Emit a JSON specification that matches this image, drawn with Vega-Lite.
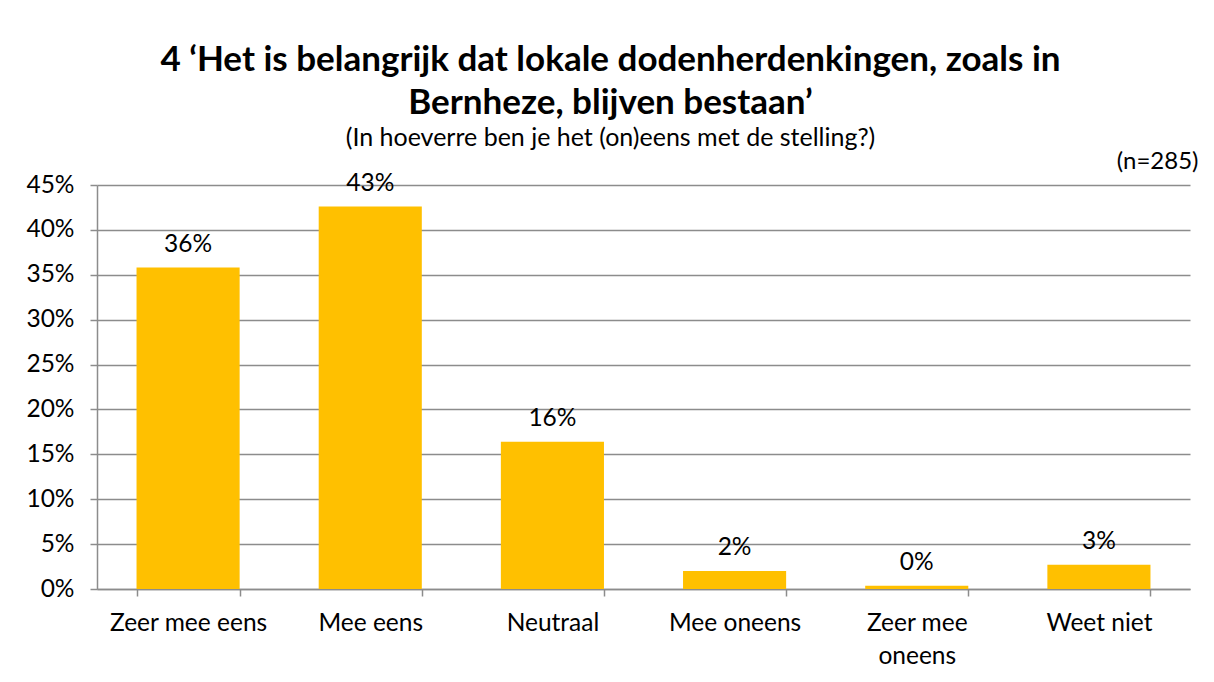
{
  "$schema": "https://vega.github.io/schema/vega-lite/v6.json",
  "width": 1093,
  "height": 404,
  "autosize": {"type": "none"},
  "padding": {"left": 97, "top": 185, "right": 24, "bottom": 93},
  "background": "white",
  "config": {"font": "Lato", "view": {"stroke": null}},
  "title": {
    "text": ["4 ‘Het is belangrijk dat lokale dodenherdenkingen, zoals in", "Bernheze, blijven bestaan’"],
    "subtitle": "(In hoeverre ben je het (on)eens met de stelling?)",
    "anchor": "middle",
    "frame": "group",
    "dx": -33,
    "fontSize": 35,
    "fontWeight": "bold",
    "lineHeight": 43,
    "color": "#000000",
    "subtitleFontSize": 25,
    "subtitleColor": "#000000",
    "subtitlePadding": 5,
    "offset": -2
  },
  "data": {
    "values": [
      {"categorie": "Zeer mee eens", "pct": 0.358},
      {"categorie": "Mee eens", "pct": 0.426},
      {"categorie": "Neutraal", "pct": 0.164},
      {"categorie": "Mee oneens", "pct": 0.020},
      {"categorie": "Zeer mee oneens", "pct": 0.0035},
      {"categorie": "Weet niet", "pct": 0.027}
    ]
  },
  "encoding": {
    "x": {
      "field": "categorie",
      "type": "nominal",
      "sort": null,
      "scale": {"paddingInner": 0.434, "paddingOuter": 0.217},
      "axis": {
        "title": null,
        "labelAngle": 0,
        "labelFontSize": 24.5,
        "labelColor": "#000000",
        "labelPadding": 15,
        "labelLineHeight": 33,
        "labelExpr": "datum.label == 'Zeer mee oneens' ? ['Zeer mee', 'oneens'] : datum.label",
        "tickBand": "extent",
        "tickSize": 7,
        "tickColor": "#8c8c8c",
        "tickWidth": 1.5,
        "domainColor": "#8c8c8c",
        "domainWidth": 1.5
      }
    },
    "y": {
      "field": "pct",
      "type": "quantitative",
      "scale": {"domain": [0, 0.45], "nice": false},
      "axis": {
        "title": "(n=285)",
        "titleAngle": 0,
        "titleX": 1101,
        "titleY": -24,
        "titleAlign": "right",
        "titleBaseline": "middle",
        "titleFontSize": 24,
        "titleFontWeight": "normal",
        "titleColor": "#000000",
        "values": [0, 0.05, 0.1, 0.15, 0.2, 0.25, 0.3, 0.35, 0.4, 0.45],
        "format": ".0%",
        "labelFontSize": 24.5,
        "labelColor": "#000000",
        "labelPadding": 16,
        "tickSize": 7,
        "tickColor": "#8c8c8c",
        "tickWidth": 1.5,
        "gridColor": "#8c8c8c",
        "gridWidth": 1.5,
        "domainColor": "#8c8c8c",
        "domainWidth": 1.5
      }
    }
  },
  "layer": [
    {"mark": {"type": "bar", "color": "#FFC000"}},
    {
      "mark": {"type": "text", "baseline": "middle", "dy": -23, "fontSize": 24.5, "color": "#000000"},
      "encoding": {"text": {"field": "pct", "type": "quantitative", "format": ".0%"}}
    }
  ]
}
